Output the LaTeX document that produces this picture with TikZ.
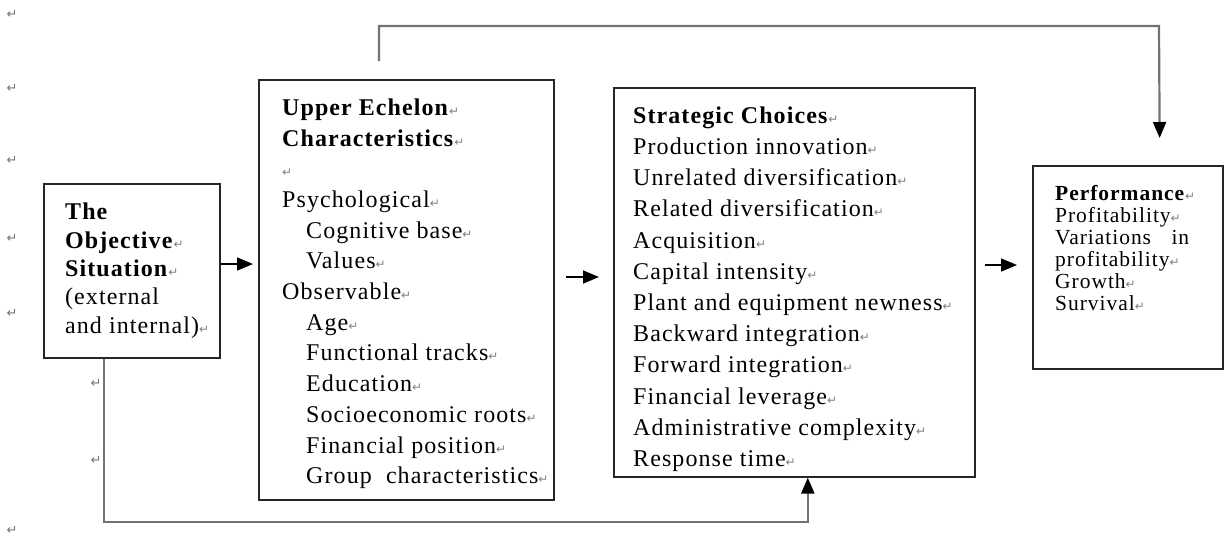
\documentclass[tikz,border=0pt]{standalone}
\usepackage{fontspec}
\setmainfont[LetterSpace=4.5]{Liberation Serif}
\newfontfamily\symfont{DejaVu Sans}
\usetikzlibrary{arrows.meta}
\newcommand\rmk{{\symfont\fontsize{12}{12}\selectfont\textcolor{black!50}{↵}}}
\newcommand\indt{\hspace*{24pt}}
\begin{document}
\begin{tikzpicture}[x=1pt,y=-1pt,
  box/.style={draw=black!85, line width=1.6pt, inner sep=0pt, anchor=north west},
  txt/.style={anchor=north west, inner sep=0pt, align=left},
  arr/.style={draw=black, line width=1.6pt, -{Triangle[length=16pt,width=13pt]}},
  conn/.style={draw=black!55, line width=2.2pt, -{Triangle[length=16pt,width=13pt,color=black]}},
  retm/.style={inner sep=0pt, font=\symfont\fontsize{13}{13}\selectfont, text=black!55}]
\useasboundingbox (0,0) rectangle (1225,544);

% boxes
\node[box, minimum width=176pt, minimum height=174pt] (obj) at (43,183) {};
\node[box, minimum width=295pt, minimum height=420pt] (upper) at (258,79) {};
\node[box, minimum width=361pt, minimum height=389pt] (strat) at (613,87) {};
\node[box, minimum width=190pt, minimum height=203pt] (perf) at (1032,165) {};

% texts
\node[txt, font=\fontsize{24}{28.3}\selectfont] (objtxt) at (65,203)
 {\textbf{The}\\ \textbf{Objective}\rmk\\ \textbf{Situation}\rmk\\ (external\\ and internal)\rmk};

\node[txt, font=\fontsize{24}{30.7}\selectfont] (uppertxt) at (282,98.5)
 {\textbf{Upper Echelon}\rmk\\ \textbf{Characteristics}\rmk\\ \rmk\\
  Psychological\rmk\\ \indt Cognitive base\rmk\\ \indt Values\rmk\\
  Observable\rmk\\ \indt Age\rmk\\ \indt Functional tracks\rmk\\
  \indt Education\rmk\\ \indt Socioeconomic roots\rmk\\
  \indt Financial position\rmk\\ \indt Group\ \ characteristics\rmk};

\node[txt, font=\fontsize{24}{31.2}\selectfont] (strattxt) at (633,106.5)
 {\textbf{Strategic Choices}\rmk\\ Production innovation\rmk\\
  Unrelated diversification\rmk\\ Related diversification\rmk\\
  Acquisition\rmk\\ Capital intensity\rmk\\ Plant and equipment newness\rmk\\
  Backward integration\rmk\\ Forward integration\rmk\\
  Financial leverage\rmk\\ Administrative complexity\rmk\\ Response time\rmk};

\node[txt, text width=134pt, font=\fontsize{21.5}{22}\selectfont] (perftxt) at (1055,185.5)
 {\textbf{Performance}\rmk\\ Profitability\rmk\\ Variations\hskip 0pt plus 1fill in\\
  profitability\rmk\\ Growth\rmk\\ Survival\rmk};

% paragraph marks in the margin
\node[retm] (m1) at (12,14) {↵};
\node[retm] (m2) at (12,88) {↵};
\node[retm] (m3) at (12,160) {↵};
\node[retm] (m4) at (12,238) {↵};
\node[retm] (m5) at (12,313) {↵};
\node[retm] (m6) at (96,383) {↵};
\node[retm] (m7) at (96,460) {↵};
\node[retm] (m8) at (12,530) {↵};

% straight arrows
\draw[arr, shorten >=5pt] (obj.east |- 0,264) -- (upper.west |- 0,264);
\draw[arr, shorten <=11pt, shorten >=14pt] (upper.east |- 0,277) -- (strat.west |- 0,277);
\draw[arr, shorten <=9pt, shorten >=15pt] (strat.east |- 0,265) -- (perf.west |- 0,265);

% feedback connectors
\coordinate (topstart) at (379,61);
\coordinate (topright) at (1159,26);
\draw[conn, shorten >=27pt] (topstart) |- (topright) -- ([xshift=32pt]perf.north);
\draw[conn] ([xshift=-28pt]obj.south) -- ++(0,163) -| ([xshift=13.5pt]strat.south);
\end{tikzpicture}
\end{document}
